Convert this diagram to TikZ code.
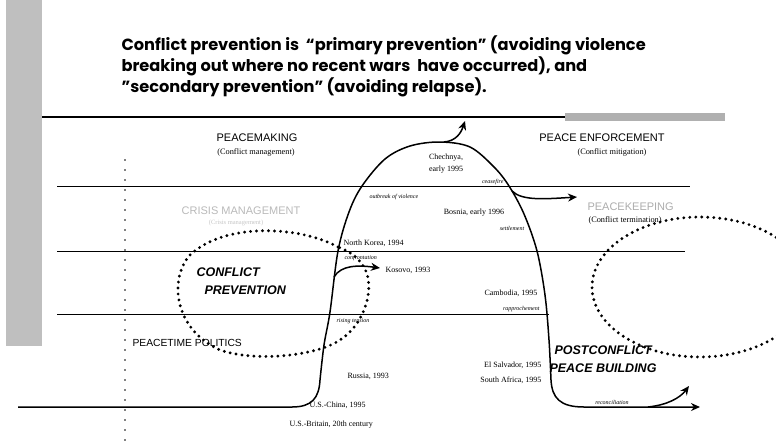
\documentclass[tikz,border=0pt]{standalone}
\usepackage{fontspec}
\setmainfont{Liberation Serif}
\setsansfont{Liberation Sans}
\newfontfamily\titlefont{Poppins}
\usetikzlibrary{arrows.meta}
\begin{document}
\begin{tikzpicture}[x=1pt,y=-1pt,
  zone/.style={font=\sffamily\fontsize{11}{12}\selectfont},
  subz/.style={font=\fontsize{8.3}{9}\selectfont},
  cty/.style={font=\fontsize{8}{9}\selectfont},
  evt/.style={font=\itshape\fontsize{6}{7}\selectfont},
  bigl/.style={font=\sffamily\bfseries\itshape\fontsize{12.5}{15}\selectfont, align=left},
  ttl/.style={font=\titlefont\bfseries\fontsize{16.2}{19}\selectfont, anchor=west},
  arr/.style={-{Stealth[length=9pt,width=8pt]}, line width=1.5pt},
  curve/.style={line width=2pt},
  hline/.style={line width=0.9pt},
  dotl/.style={line width=3.2pt, line cap=round, dash pattern=on 0pt off 6pt},
  vdots/.style={line width=1.8pt, line cap=round, dash pattern=on 0pt off 10pt}
]
\useasboundingbox (0,0) rectangle (776,445);
\begin{scope}
\clip (0,0) rectangle (776,445);
% grey strip and bar
\fill[gray!50] (6,0) rectangle (42,346);
\fill[gray!62] (565,113) rectangle (725,121);

% title
\node[ttl] (t1) at (118,45) {Conflict prevention is \ “primary prevention” (avoiding violence};
\node[ttl] (t2) at (118,66) {breaking out where no recent wars \ have occurred), and};
\node[ttl] (t3) at (118,87) {”secondary prevention” (avoiding relapse).};

% horizontal lines
\draw[line width=1.5pt] (42,117) -- (565,117);
\draw[hline] (57,186) -- (690,186);
\draw[hline] (57,251) -- (685,251);
\draw[hline] (57,314) -- (549,314);

% vertical dotted line
\draw[vdots] (125,160) -- (125,442);

% dotted loops
\draw[dotl] (338,247) .. controls (300,226) and (225,222) .. (190,255)
  .. controls (168,280) and (175,330) .. (220,350)
  .. controls (255,362) and (310,356) .. (335,343)
  .. controls (360,330) and (372,300) .. (368,278)
  .. controls (365,262) and (352,252) .. (338,247);
\draw[dotl] (700,287) ellipse [x radius=108, y radius=70];

% main curve
\draw[curve, arr] (18,407) -- (292,407) .. controls (312,407) and (319,398) .. (320,380)
  -- plot[smooth, tension=0.55] coordinates {(320,380) (324,345) (330,312) (338,251) (349,212) (362,186) (385,159) (410,146) (440,142) (470,147) (494,167) (509,186) (524,214) (537,251) (545,295) (549,340) (551,380)}
  .. controls (552,398) and (560,407) .. (584,407) -- (700,407);

% arrows
\coordinate (pk) at (444,142);
\coordinate (pkE) at (465,121);
\draw[arr] (pk) .. controls (456,141) and (461,133) .. (pkE);
\coordinate (cf) at (512,191);
\coordinate (cfE) at (577,197);
\draw[arr] (cf) .. controls (522,201) and (545,199) .. (cfE);
\coordinate (ko) at (334,277);
\coordinate (koE) at (380,268);
\draw[arr] (ko) .. controls (341,265) and (358,265) .. (koE);
\coordinate (rc) at (648,407);
\coordinate (rcE) at (689,386);
\draw[arr] (rc) .. controls (667,405) and (680,398) .. (rcE);
\end{scope}

% zone labels
\node[zone] (pm) at (257,138) {PEACEMAKING};
\node[subz] (pms) at (256,152) {(Conflict management)};
\node[zone] (pe) at (602,138) {PEACE ENFORCEMENT};
\node[subz] (pes) at (612,152) {(Conflict mitigation)};
\node[zone, text=gray!55] (cm) at (241,211) {CRISIS MANAGEMENT};
\node[font=\fontsize{6.5}{7}\selectfont, text=gray!45] (cms) at (236,223) {(Crisis management)};
\node[zone, text=gray!65, anchor=west] (pk2) at (584,207) {PEACEKEEPING};
\node[subz, anchor=west] (pks) at (585,220) {(Conflict termination)};
\node[zone, font=\sffamily\fontsize{10.3}{12}\selectfont, anchor=west] (pt) at (129,343) {PEACETIME POLITICS};
\node[bigl, anchor=west] (cp1) at (193,272) {CONFLICT};
\node[bigl, anchor=west] (cp2) at (201,290) {PREVENTION};
\node[bigl, anchor=west] (pb1) at (551,350) {POSTCONFLICT};
\node[bigl, anchor=west] (pb2) at (546,368) {PEACE BUILDING};

% cases
\node[cty] (ch1) at (446,158) {Chechnya,};
\node[cty] (ch2) at (446,170) {early 1995};
\node[cty] (bo) at (474,213) {Bosnia, early 1996};
\node[cty, anchor=west] (nk) at (340,243) {North Korea, 1994};
\node[cty, anchor=west] (kv) at (382,270) {Kosovo, 1993};
\node[cty, anchor=east] (cb) at (541,293) {Cambodia, 1995};
\node[cty, anchor=west] (ru) at (344,376) {Russia, 1993};
\node[cty, anchor=east] (es) at (545,365) {El Salvador, 1995};
\node[cty, anchor=east] (sa) at (545,380) {South Africa, 1995};
\node[cty, anchor=west] (uc) at (306,405) {U.S.-China, 1995};
\node[cty, anchor=west] (ub) at (286,425) {U.S.-Britain, 20th century};

% events on the curve
\node[evt, anchor=west] (ob) at (366,197) {outbreak of violence};
\node[evt, anchor=east] (cfl) at (507,182) {ceasefire};
\node[evt] (st) at (512,228) {settlement};
\node[evt, anchor=west] (co) at (341,258) {confrontation};
\node[evt, anchor=east] (ra) at (543,309) {rapprochement};
\node[evt, anchor=west] (rt) at (333,321) {rising tension};
\node[evt] (re) at (612,402) {reconciliation};
\end{tikzpicture}
\end{document}
